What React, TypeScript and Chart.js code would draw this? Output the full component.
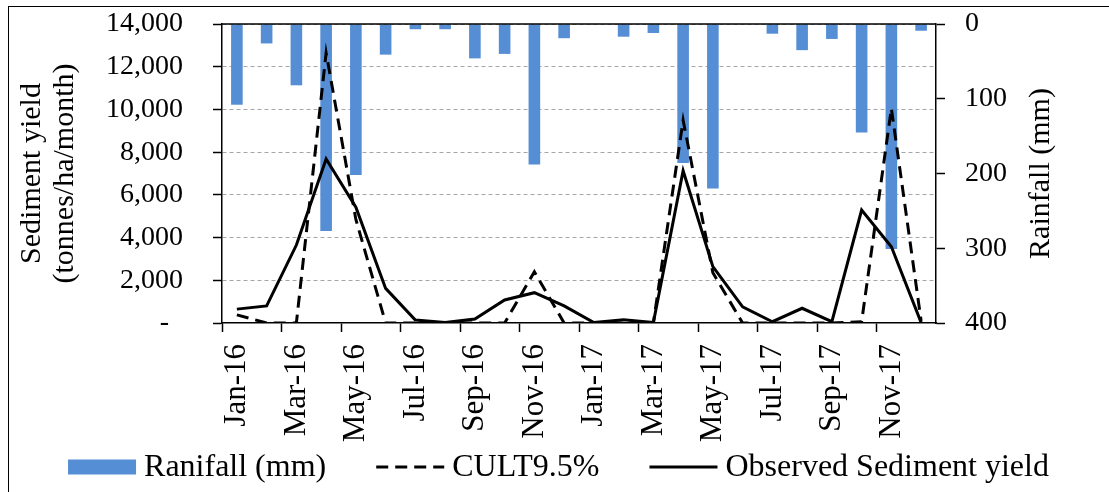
import React, { useEffect, useRef } from 'react';
import { Chart, registerables } from 'chart.js';

Chart.register(...registerables);

// Monthly categories, Jan 2016 – Dec 2017
const months = [
  'Jan-16', 'Feb-16', 'Mar-16', 'Apr-16', 'May-16', 'Jun-16',
  'Jul-16', 'Aug-16', 'Sep-16', 'Oct-16', 'Nov-16', 'Dec-16',
  'Jan-17', 'Feb-17', 'Mar-17', 'Apr-17', 'May-17', 'Jun-17',
  'Jul-17', 'Aug-17', 'Sep-17', 'Oct-17', 'Nov-17', 'Dec-17',
];

// Monthly rainfall (mm), plotted on the reversed right axis
const rainfall = [108, 26, 82, 277, 202, 41, 7, 7, 46, 40, 188, 19, 0, 17, 12, 186, 220, 0, 13, 35, 20, 145, 301, 9];

// Simulated sediment yield, CULT 9.5% scenario (tonnes/ha/month)
const cult = [380, 0, 0, 12650, 4850, 0, 0, 0, 0, 0, 2400, 0, 0, 0, 0, 9500, 2350, 0, 0, 0, 0, 60, 10050, 100];

// Observed sediment yield (tonnes/ha/month)
const observed = [650, 800, 3650, 7680, 5420, 1620, 140, 20, 190, 1080, 1420, 800, 20, 150, 20, 7130, 2640, 760, 60, 690, 60, 5290, 3570, 20];

const seriesNames = ['Ranifall (mm)', 'CULT9.5%', 'Observed Sediment yield'];
const leftTitle = ['Sediment yield', '(tonnes/ha/month)'];
const rightTitle = 'Rainfall (mm)';

const W = 1109;
const H = 492;
const FONT = '"Liberation Serif", "Times New Roman", Times, serif';
const BAR_BLUE = '#558ED5';
const CULT_DASH = [12, 7];

const PLOT_TOP = 24;
const PLOT_BOTTOM = 323;
const LEGEND_BAND = 47; // space kept below the x axis for the legend row
const LEGEND_Y = 467;

// Top frame line, right-hand axis title and the legend row
const decorPlugin = {
  id: 'decor',
  afterDraw(chart: any) {
    const { ctx, chartArea } = chart;
    const y1 = chart.scales.y1;
    ctx.save();

    // frame line across the top of the plot area
    ctx.strokeStyle = '#000';
    ctx.lineWidth = 1.5;
    ctx.beginPath();
    ctx.moveTo(chartArea.left, chartArea.top);
    ctx.lineTo(chartArea.right, chartArea.top);
    ctx.stroke();

    // right axis title, reading bottom-to-top
    ctx.save();
    ctx.translate(y1.right - 68, (chartArea.top + chartArea.bottom) / 2);
    ctx.rotate(-Math.PI / 2);
    ctx.font = `30px ${FONT}`;
    ctx.fillStyle = '#000';
    ctx.textAlign = 'center';
    ctx.textBaseline = 'middle';
    ctx.fillText(rightTitle, 0, 0);
    ctx.restore();

    // legend
    const swatchW = 68;
    const textGap = 8;
    const itemGap = 50;
    ctx.font = `32px ${FONT}`;
    const widths = seriesNames.map((n) => ctx.measureText(n).width);
    const total = widths.reduce((a, w) => a + swatchW + textGap + w, 0) + itemGap * (seriesNames.length - 1);
    let x = (W - total) / 2 + 4;
    seriesNames.forEach((name, i) => {
      if (i === 0) {
        ctx.fillStyle = BAR_BLUE;
        ctx.fillRect(x, LEGEND_Y - 7.5, swatchW, 15);
      } else {
        ctx.strokeStyle = '#000';
        ctx.lineWidth = 3;
        ctx.setLineDash(i === 1 ? CULT_DASH : []);
        ctx.beginPath();
        ctx.moveTo(x, LEGEND_Y);
        ctx.lineTo(x + swatchW, LEGEND_Y);
        ctx.stroke();
        ctx.setLineDash([]);
      }
      ctx.fillStyle = '#000';
      ctx.textAlign = 'left';
      ctx.textBaseline = 'middle';
      ctx.fillText(name, x + swatchW + textGap, LEGEND_Y + 1);
      x += swatchW + textGap + widths[i] + itemGap;
    });

    ctx.restore();
  },
};

// keep tick-label padding from pushing the plot area down
const trimVerticalPadding = (scale: any) => {
  scale.paddingTop = 12;
  scale.paddingBottom = 12;
};

export default function App() {
  const ref = useRef<HTMLCanvasElement | null>(null);

  useEffect(() => {
    if (!ref.current) return;
    const chart = new Chart(ref.current, {
      type: 'bar',
      data: {
        labels: months,
        datasets: [
          {
            type: 'bar',
            label: seriesNames[0],
            data: rainfall,
            backgroundColor: BAR_BLUE,
            borderWidth: 0,
            xAxisID: 'x',
            yAxisID: 'y1',
            barPercentage: 0.39,
            categoryPercentage: 1,
            order: 3,
          },
          {
            type: 'line',
            label: seriesNames[1],
            data: cult,
            borderColor: '#000',
            backgroundColor: '#000',
            borderWidth: 3,
            borderDash: CULT_DASH,
            pointRadius: 0,
            tension: 0,
            fill: false,
            borderJoinStyle: 'miter',
            xAxisID: 'x',
            yAxisID: 'y',
            order: 2,
          },
          {
            type: 'line',
            label: seriesNames[2],
            data: observed,
            borderColor: '#000',
            backgroundColor: '#000',
            borderWidth: 3,
            pointRadius: 0,
            tension: 0,
            fill: false,
            borderJoinStyle: 'miter',
            xAxisID: 'x',
            yAxisID: 'y',
            order: 1,
          },
        ] as any,
      },
      options: {
        responsive: false,
        animation: false,
        devicePixelRatio: 1,
        layout: { padding: { top: PLOT_TOP, left: 0, right: 0, bottom: LEGEND_BAND } },
        scales: {
          x: {
            type: 'category',
            position: 'bottom',
            offset: true,
            grid: {
              offset: true,
              drawOnChartArea: false,
              tickLength: 9,
              tickWidth: 1.5,
              tickColor: (c: any) => (c.index % 2 === 0 ? '#000' : 'rgba(0,0,0,0)'),
            },
            border: { color: '#000', width: 1.5 },
            ticks: {
              autoSkip: false,
              minRotation: 90,
              maxRotation: 90,
              padding: 12,
              color: '#000',
              font: { family: FONT, size: 31 },
              callback: (_v: any, i: number) => (i % 2 === 0 ? months[i] : ''),
            },
            afterFit: (scale: any) => {
              scale.height = H - PLOT_BOTTOM - LEGEND_BAND;
            },
          },
          y: {
            type: 'linear',
            position: 'left',
            min: 0,
            max: 14000,
            grid: {
              color: (c: any) => (c.index === 0 ? 'rgba(0,0,0,0)' : '#A6A6A6'),
              lineWidth: 1,
              tickLength: 9,
              tickWidth: 1.5,
              tickColor: '#000',
              tickBorderDash: [],
            },
            border: { color: '#000', width: 1.5, dash: [4, 3] },
            ticks: {
              stepSize: 2000,
              padding: 30,
              color: '#000',
              font: { family: FONT, size: 28 },
              callback: (v: any) =>
                Number(v) === 0 ? '-\u2007' : Number(v).toLocaleString('en-US'),
            },
            title: {
              display: true,
              text: leftTitle,
              color: '#000',
              font: { family: FONT, size: 30, lineHeight: 1.1 },
              padding: { top: 16, bottom: 0 },
            },
            afterFit: (scale: any) => {
              scale.width = 222;
              trimVerticalPadding(scale);
            },
          },
          y1: {
            type: 'linear',
            position: 'right',
            reverse: true,
            min: 0,
            max: 400,
            grid: {
              drawOnChartArea: false,
              tickLength: 9,
              tickWidth: 1.5,
              tickColor: '#000',
            },
            border: { color: '#000', width: 1.5 },
            ticks: {
              stepSize: 100,
              padding: 20,
              color: '#000',
              font: { family: FONT, size: 28 },
            },
            afterFit: (scale: any) => {
              scale.width = W - 936;
              trimVerticalPadding(scale);
            },
          },
        },
        plugins: {
          tooltip: { enabled: false },
          legend: { display: false },
        },
      } as any,
      plugins: [decorPlugin],
    });
    return () => chart.destroy();
  }, []);

  return (
    <div style={{ position: 'absolute', left: 0, top: 0, width: W, height: H, overflow: 'hidden', background: '#fff' }}>
      <canvas ref={ref} width={W} height={H} style={{ position: 'absolute', left: 0, top: 0, width: W, height: H }} />
      <div
        style={{
          position: 'absolute',
          left: 8,
          top: 6,
          width: 1300,
          height: 700,
          borderLeft: '1px solid #000',
          borderTop: '1px solid #000',
          pointerEvents: 'none',
        }}
      />
    </div>
  );
}
